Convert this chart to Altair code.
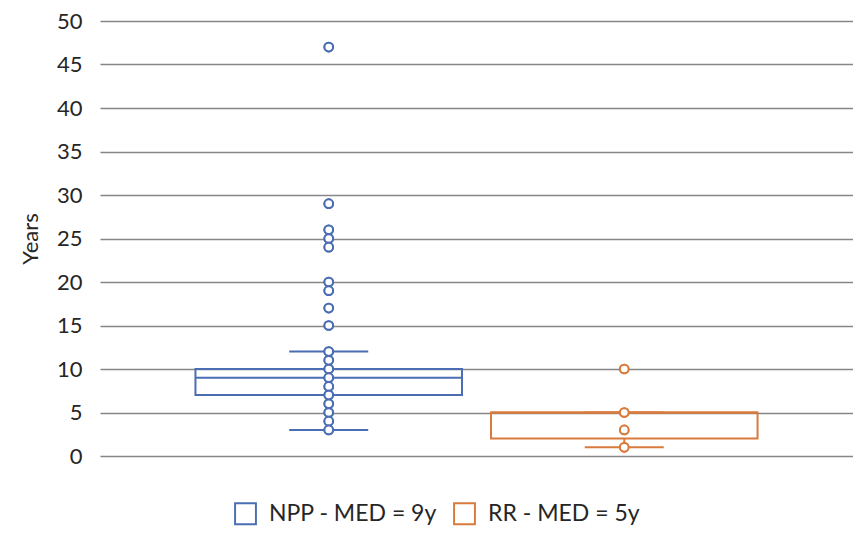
import altair as alt
import pandas as pd

# ---- data ----
series = ["NPP", "RR"]
medians_label = [9, 5]
q1 = [7, 2]
q3 = [10, 5]
median = [9, 5]
whisk_lo = [3, 1]
whisk_hi = [12, 5]
npp_points = [47, 29, 26, 25, 24, 20, 19, 17, 15, 12, 11, 10, 9, 8, 7, 6, 5, 4, 3]
rr_points = [10, 5, 3, 1]
y_ticks = [0, 5, 10, 15, 20, 25, 30, 35, 40, 45, 50]
colors = ["#4A6DB3", "#D97B3C"]

labels = [f"{s} - MED = {m}y" for s, m in zip(series, medians_label)]

stats = pd.DataFrame({
    "cat": [""] * len(series),
    "series": labels,
    "q1": q1, "q3": q3, "median": median,
    "lo": whisk_lo, "hi": whisk_hi,
})
pts = pd.DataFrame({
    "cat": [""] * (len(npp_points) + len(rr_points)),
    "series": [labels[0]] * len(npp_points) + [labels[1]] * len(rr_points),
    "value": npp_points + rr_points,
})

FONT = "Lato"

x_enc = alt.X("cat:N", axis=None, scale=alt.Scale(paddingInner=0, paddingOuter=0))
xo_enc = alt.XOffset("series:N", scale=alt.Scale(domain=labels, paddingInner=0.098, paddingOuter=0.323))
color_scale = alt.Scale(domain=labels, range=colors)

y_scale = alt.Scale(domain=[0, 50], nice=False)
y_axis = alt.Axis(values=y_ticks, grid=True, domain=False, ticks=False,
                  labelPadding=18, title="Years", titlePadding=14)

# hollow square outline as a custom symbol path
hollow_square = "M-1,-1H1V1H-1Z M-0.83,-0.83V0.83H0.83V-0.83Z"

legend = alt.Legend(title=None, orient="none", legendX=134, legendY=481,
                    direction="horizontal", symbolType=hollow_square,
                    symbolSize=520, symbolStrokeWidth=0,
                    labelFontSize=23, labelLimit=400,
                    labelOffset=12, columnPadding=16, padding=0,
                    labelFont=FONT, labelColor="#262626")

def point_layer(leg):
    return alt.Chart(pts).mark_point(size=75, strokeWidth=2, filled=False, fill="white",
                                     fillOpacity=1, opacity=1).encode(
        x=x_enc, xOffset=xo_enc,
        y=alt.Y("value:Q", scale=y_scale, axis=y_axis),
        stroke=alt.Stroke("series:N", scale=color_scale, legend=leg),
    )

points_legend = point_layer(legend)
points_top = point_layer(None)

box = alt.Chart(stats).mark_bar(filled=False, strokeWidth=2).encode(
    x=x_enc, xOffset=xo_enc,
    y=alt.Y("q1:Q", scale=y_scale),
    y2="q3:Q",
    stroke=alt.Stroke("series:N", scale=color_scale, legend=None),
)

med = alt.Chart(stats).mark_bar(filled=False, strokeWidth=2).encode(
    x=x_enc, xOffset=xo_enc,
    y=alt.Y("median:Q", scale=y_scale),
    y2="median:Q",
    stroke=alt.Stroke("series:N", scale=color_scale, legend=None),
)

wl = alt.Chart(stats).mark_rule(strokeWidth=2).encode(
    x=x_enc, xOffset=xo_enc,
    y=alt.Y("lo:Q", scale=y_scale), y2="q1:Q",
    color=alt.Color("series:N", scale=color_scale, legend=None),
)
wh = alt.Chart(stats).mark_rule(strokeWidth=2).encode(
    x=x_enc, xOffset=xo_enc,
    y=alt.Y("q3:Q", scale=y_scale), y2="hi:Q",
    color=alt.Color("series:N", scale=color_scale, legend=None),
)
cap_lo = alt.Chart(stats).mark_tick(size=79, thickness=2, opacity=1).encode(
    x=x_enc, xOffset=xo_enc,
    y=alt.Y("lo:Q", scale=y_scale),
    color=alt.Color("series:N", scale=color_scale, legend=None),
)
cap_hi = alt.Chart(stats).mark_tick(size=79, thickness=2, opacity=1).encode(
    x=x_enc, xOffset=xo_enc,
    y=alt.Y("hi:Q", scale=y_scale),
    color=alt.Color("series:N", scale=color_scale, legend=None),
)

chart = alt.layer(points_legend, box, med, wl, wh, cap_lo, cap_hi, points_top).properties(
    width=753, height=435,
    autosize=alt.AutoSizeParams(type="none"),
    padding={"left": 92, "top": 13, "right": 0, "bottom": 71},
).configure_view(stroke=None).configure_axis(
    labelFont=FONT, labelFontSize=22, labelColor="#262626",
    titleFont=FONT, titleFontSize=22, titleColor="#262626", titleFontWeight="normal",
    gridColor="#868686", gridWidth=1.5,
)

chart.save("out.html", embed_options={"renderer": "svg", "actions": False})
